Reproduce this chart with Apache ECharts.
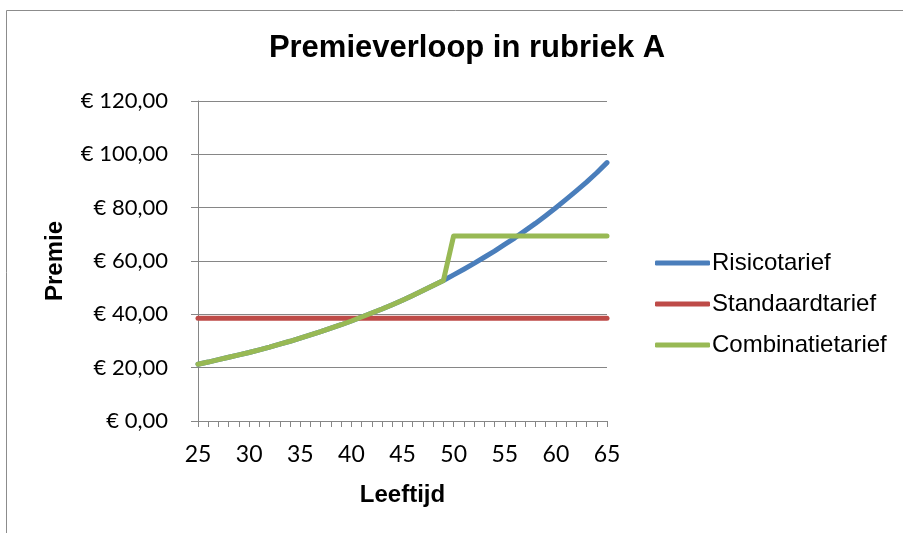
<!DOCTYPE html>
<html>
<head>
<meta charset="utf-8">
<script src="https://cdn.jsdelivr.net/npm/echarts@6/dist/echarts.min.js"></script>
<style>
  html, body { margin: 0; padding: 0; background: #fff; }
  #chart { width: 903px; height: 533px; }
</style>
</head>
<body>
<div id="chart"></div>
<script>
// leeftijden 25 t/m 65
const ages = [25, 26, 27, 28, 29, 30, 31, 32, 33, 34, 35, 36, 37, 38, 39, 40, 41, 42, 43, 44, 45,
  46, 47, 48, 49, 50, 51, 52, 53, 54, 55, 56, 57, 58, 59, 60, 61, 62, 63, 64, 65];

const risico = [21.3, 22.1, 23.0, 23.9, 24.8, 25.7, 26.7, 27.7, 28.8, 29.9, 31.1, 32.3, 33.5, 34.8,
  36.1, 37.5, 39.0, 40.5, 42.0, 43.6, 45.3, 47.1, 48.9, 50.8, 52.7, 54.8, 56.9, 59.1, 61.4, 63.7,
  66.2, 68.7, 71.4, 74.1, 77.0, 80.0, 83.1, 86.3, 89.6, 93.1, 96.9];

const standaard = [38.5, 38.5, 38.5, 38.5, 38.5, 38.5, 38.5, 38.5, 38.5, 38.5, 38.5, 38.5, 38.5, 38.5,
  38.5, 38.5, 38.5, 38.5, 38.5, 38.5, 38.5, 38.5, 38.5, 38.5, 38.5, 38.5, 38.5, 38.5, 38.5, 38.5,
  38.5, 38.5, 38.5, 38.5, 38.5, 38.5, 38.5, 38.5, 38.5, 38.5, 38.5];

const combinatie = [21.3, 22.1, 23.0, 23.9, 24.8, 25.7, 26.7, 27.7, 28.8, 29.9, 31.1, 32.3, 33.5, 34.8,
  36.1, 37.5, 39.0, 40.5, 42.0, 43.6, 45.3, 47.1, 48.9, 50.8, 52.7, 69.4, 69.4, 69.4, 69.4, 69.4,
  69.4, 69.4, 69.4, 69.4, 69.4, 69.4, 69.4, 69.4, 69.4, 69.4, 69.4];

const seriesNames = ['Risicotarief', 'Standaardtarief', 'Combinatietarief'];
const colors = ['#4a7ebb', '#be4b48', '#98b954'];

const pair = (vals) => ages.map((a, i) => [a, vals[i]]);

const chart = echarts.init(document.getElementById('chart'), null, { renderer: 'canvas' });

const font = 'Liberation Sans, Arial, sans-serif';
const tickFont = 'Lato, Liberation Sans, sans-serif';

const lineSeries = (name, vals, color) => ({
  name: name,
  type: 'line',
  data: pair(vals),
  showSymbol: false,
  symbol: 'none',
  lineStyle: { width: 5, color: color, cap: 'round', join: 'round' },
  itemStyle: { color: color },
  animation: false
});

const option = {
  backgroundColor: '#ffffff',
  animation: false,
  textStyle: { fontFamily: font },
  title: {
    text: 'Premieverloop in rubriek A',
    left: 462,
    top: 28,
    textAlign: 'center',
    textStyle: { fontFamily: font, fontSize: 31, fontWeight: 'bold', color: '#000' }
  },
  graphic: [{
    type: 'rect',
    shape: { x: 6.5, y: 10.5, width: 1000, height: 1000 },
    style: { fill: 'none', stroke: '#8c8c8c', lineWidth: 1 },
    silent: true
  }],
  legend: {
    orient: 'vertical',
    left: 650,
    top: 246,
    itemGap: 17,
    itemWidth: 55,
    itemHeight: 5,
    icon: 'roundRect',
    data: seriesNames,
    textStyle: { fontFamily: font, fontSize: 24, color: '#000', padding: [0, 0, 0, -3] }
  },
  grid: { left: 198, right: 296, top: 101, bottom: 112, containLabel: false },
  xAxis: {
    type: 'value',
    min: 25,
    max: 65,
    interval: 5,
    name: 'Leeftijd',
    nameLocation: 'middle',
    nameGap: 62,
    nameTextStyle: { fontFamily: font, fontSize: 24, fontWeight: 'bold', color: '#000' },
    axisLine: { show: true, onZero: false, lineStyle: { color: '#868686', width: 1 } },
    axisTick: { show: true, inside: false, length: 6, lineStyle: { color: '#868686' } },
    minorTick: { show: true, splitNumber: 5, length: 6, lineStyle: { color: '#868686' } },
    splitLine: { show: false },
    axisLabel: { fontFamily: tickFont, fontSize: 23, color: '#000', margin: 22 }
  },
  yAxis: {
    type: 'value',
    min: 0,
    max: 120,
    interval: 20,
    name: 'Premie',
    nameLocation: 'middle',
    nameGap: 131,
    nameTextStyle: { fontFamily: font, fontSize: 24, fontWeight: 'bold', color: '#000' },
    axisLine: { show: true, lineStyle: { color: '#868686', width: 1 } },
    axisTick: { show: true, inside: false, length: 7, lineStyle: { color: '#868686' } },
    splitLine: { show: true, lineStyle: { color: '#868686', width: 1 } },
    axisLabel: {
      fontFamily: tickFont, fontSize: 22, color: '#000', margin: 30,
      formatter: (v) => '€ ' + v.toFixed(2).replace('.', ',')
    }
  },
  series: [
    lineSeries(seriesNames[0], risico, colors[0]),
    lineSeries(seriesNames[1], standaard, colors[1]),
    lineSeries(seriesNames[2], combinatie, colors[2])
  ]
};

chart.setOption(option);
</script>
</body>
</html>
